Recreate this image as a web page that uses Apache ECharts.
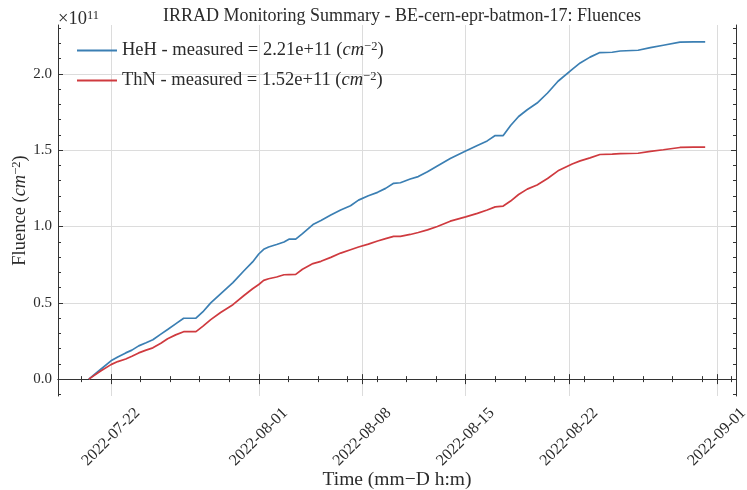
<!DOCTYPE html>
<html>
<head>
<meta charset="utf-8">
<script src="https://cdn.jsdelivr.net/npm/echarts@6/dist/echarts.min.js"></script>
<style>
  html, body { margin: 0; padding: 0; background: #fff; }
  #chart { width: 747px; height: 490px; }
</style>
</head>
<body>
<div id="chart"></div>
<script>
// Measurement timestamps (UTC) and cumulative fluences, in units of 1e11 cm^-2
const times = [
  '2022-07-20 12:00', '2022-07-21 06:00', '2022-07-22 00:00', '2022-07-22 11:00', '2022-07-23 00:00',
  '2022-07-23 10:00', '2022-07-23 21:00', '2022-07-24 09:00', '2022-07-24 20:00', '2022-07-25 09:00',
  '2022-07-25 20:00', '2022-07-26 09:00', '2022-07-26 22:00', '2022-07-27 18:00', '2022-07-28 05:00',
  '2022-07-28 18:00', '2022-07-29 10:00', '2022-07-30 06:00', '2022-07-31 00:00', '2022-07-31 14:00',
  '2022-08-01 00:00', '2022-08-01 08:00', '2022-08-01 16:00', '2022-08-02 05:00', '2022-08-02 17:00',
  '2022-08-03 01:00', '2022-08-03 12:00', '2022-08-03 23:00', '2022-08-04 16:00', '2022-08-05 05:00',
  '2022-08-05 21:00', '2022-08-06 13:00', '2022-08-07 05:00', '2022-08-07 18:00', '2022-08-08 10:00',
  '2022-08-09 01:00', '2022-08-09 14:00', '2022-08-10 03:00', '2022-08-10 14:00', '2022-08-11 06:00',
  '2022-08-11 19:00', '2022-08-12 10:00', '2022-08-13 02:00', '2022-08-13 23:00', '2022-08-15 00:00',
  '2022-08-15 19:00', '2022-08-16 11:00', '2022-08-17 00:00', '2022-08-17 13:00', '2022-08-18 01:00',
  '2022-08-18 14:00', '2022-08-19 04:00', '2022-08-19 20:00', '2022-08-20 13:00', '2022-08-21 06:00',
  '2022-08-22 05:00', '2022-08-22 18:00', '2022-08-23 10:00', '2022-08-24 02:00', '2022-08-24 22:00',
  '2022-08-25 11:00', '2022-08-26 16:00', '2022-08-27 12:00', '2022-08-28 09:00', '2022-08-29 12:00',
  '2022-08-30 10:00', '2022-08-31 05:00'
];
const heh = [
  0.000, 0.060, 0.120, 0.145, 0.172, 0.190, 0.218, 0.238, 0.258, 0.295,
  0.325, 0.362, 0.399, 0.399, 0.440, 0.500, 0.559, 0.632, 0.710, 0.768,
  0.820, 0.851, 0.866, 0.882, 0.899, 0.917, 0.917, 0.954, 1.013, 1.040,
  1.075, 1.108, 1.136, 1.173, 1.202, 1.224, 1.250, 1.283, 1.287, 1.311,
  1.327, 1.359, 1.397, 1.445, 1.495, 1.531, 1.561, 1.596, 1.596, 1.662,
  1.721, 1.765, 1.809, 1.875, 1.952, 2.030, 2.072, 2.110, 2.140, 2.142,
  2.150, 2.155, 2.172, 2.188, 2.208, 2.210, 2.210
];
const thn = [
  0.000, 0.050, 0.095, 0.115, 0.132, 0.150, 0.172, 0.190, 0.205, 0.235,
  0.265, 0.290, 0.311, 0.311, 0.346, 0.390, 0.437, 0.488, 0.548, 0.592,
  0.620, 0.647, 0.658, 0.669, 0.684, 0.685, 0.686, 0.720, 0.757, 0.772,
  0.798, 0.826, 0.848, 0.866, 0.885, 0.905, 0.921, 0.935, 0.936, 0.948,
  0.961, 0.978, 1.000, 1.035, 1.063, 1.086, 1.108, 1.129, 1.134, 1.167,
  1.210, 1.245, 1.272, 1.315, 1.365, 1.410, 1.430, 1.450, 1.472, 1.475,
  1.478, 1.480, 1.492, 1.503, 1.518, 1.520, 1.520
];
const UNIT = 1e11;
const seriesNames = ['HeH', 'ThN'];
const xMajorDates = ['2022-07-22', '2022-08-01', '2022-08-08', '2022-08-15', '2022-08-22', '2022-09-01'];
const yMajorTicks = [0.0, 0.5, 1.0, 1.5, 2.0];

const FONT = "'Liberation Serif', 'DejaVu Serif', serif";
const TEXT = '#2b2b2b';
const FRAME = '#333333';
const GRID = '#dcdcdc';
const DAY = 86400000;
const LABEL_SIZE = 18.5;

const toMs = s => Date.parse(s.replace(' ', 'T') + (s.length > 10 ? ':00Z' : 'T00:00:00Z'));
const tMs = times.map(toMs);

// axis ranges with 5% padding around the data
const xPad = (tMs[tMs.length - 1] - tMs[0]) * 0.05;
const xMin = tMs[0] - xPad, xMax = tMs[tMs.length - 1] + xPad;
const yDataMax = Math.max(...heh, ...thn);
const yPad = yDataMax * 0.05;
const yMin = -yPad, yMax = yDataMax + yPad;

const xMajor = xMajorDates.map(toMs);
// minor ticks every two days, anchored on the first major tick
const xMinor = [];
for (let t = xMajor[0] - 2 * DAY * Math.floor((xMajor[0] - xMin) / (2 * DAY)); t <= xMax; t += 2 * DAY) {
  if (t >= xMin && !xMajor.includes(t)) xMinor.push(t);
}
const yMinor = [];
for (let k = Math.ceil(yMin * 10); k <= Math.floor(yMax * 10); k++) {
  const v = k / 10;
  if (!yMajorTicks.some(m => Math.abs(m - v) < 1e-9)) yMinor.push(v);
}

const pad2 = n => String(n).padStart(2, '0');
const fmtDate = v => { const d = new Date(v); return d.getUTCFullYear() + '-' + pad2(d.getUTCMonth() + 1) + '-' + pad2(d.getUTCDate()); };

const seriesData = [heh, thn].map(arr => arr.map((v, i) => [tMs[i], v]));
const finals = { HeH: heh[heh.length - 1], ThN: thn[thn.length - 1] };
const sci = v => (v * UNIT).toExponential(2);

const baseX = {
  type: 'value', min: xMin, max: xMax, scale: true,
  axisLine: { show: false }, splitLine: { show: false }, axisLabel: { show: false },
  axisTick: { show: true, inside: true, length: 5, lineStyle: { color: FRAME, width: 1 } }
};
const baseY = {
  type: 'value', min: yMin, max: yMax,
  axisLine: { show: false }, splitLine: { show: false }, axisLabel: { show: false },
  axisTick: { show: true, inside: true, length: 5, lineStyle: { color: FRAME, width: 1 } }
};
const richMath = {
  t: { fontFamily: FONT, fontSize: LABEL_SIZE, color: TEXT },
  it: { fontFamily: FONT, fontStyle: 'italic', fontSize: LABEL_SIZE, color: TEXT },
  sup: { fontFamily: FONT, fontSize: 12.5, color: TEXT, verticalAlign: 'top', padding: [0, 0, 8, 0] }
};

const chart = echarts.init(document.getElementById('chart'), null, { renderer: 'canvas' });
chart.setOption({
  animation: false,
  backgroundColor: '#ffffff',
  title: {
    text: 'IRRAD Monitoring Summary - BE-cern-epr-batmon-17: Fluences',
    left: 397, textAlign: 'center', top: 2,
    textStyle: { fontFamily: FONT, fontSize: 18, fontWeight: 'normal', color: TEXT }
  },
  grid: { left: 58, right: 11, top: 25, bottom: 94, containLabel: false, outerBoundsMode: 'none' },
  legend: {
    data: seriesNames,
    orient: 'vertical', left: 72, top: 35, itemGap: 10,
    icon: 'rect', itemWidth: 40, itemHeight: 2,
    textStyle: { fontFamily: FONT, fontSize: LABEL_SIZE, color: TEXT, rich: richMath },
    formatter: name => '{t|' + name + ' - measured = ' + sci(finals[name]) + ' (}{it|cm}{sup|\u22122}{t|)}'
  },
  xAxis: [
    Object.assign({}, baseX, {
      position: 'bottom',
      axisLine: { show: true, lineStyle: { color: FRAME, width: 1 } },
      axisTick: { show: true, inside: true, length: 5, customValues: xMajor, lineStyle: { color: FRAME, width: 1 } },
      splitLine: { show: true, lineStyle: { color: GRID, width: 1 } },
      axisLabel: {
        show: true, customValues: xMajor, rotate: 45, margin: 41,
        align: 'center', verticalAlign: 'middle',
        fontFamily: FONT, fontSize: 16, color: TEXT, formatter: v => fmtDate(v)
      },
      name: 'Time (mm\u2212D h:m)', nameLocation: 'middle', nameGap: 74, nameMoveOverlap: false,
      nameTextStyle: { fontFamily: FONT, fontSize: 19.5, color: TEXT }
    }),
    Object.assign({}, baseX, {
      position: 'bottom',
      axisTick: { show: true, inside: true, length: 3, customValues: xMinor, lineStyle: { color: FRAME, width: 1 } }
    }),
    Object.assign({}, baseX, {
      position: 'top',
      axisLine: { show: true, lineStyle: { color: FRAME, width: 1 } },
      axisTick: { show: true, inside: true, length: 5, customValues: xMajor, lineStyle: { color: FRAME, width: 1 } }
    }),
    Object.assign({}, baseX, {
      position: 'top',
      axisTick: { show: true, inside: true, length: 3, customValues: xMinor, lineStyle: { color: FRAME, width: 1 } }
    })
  ],
  yAxis: [
    Object.assign({}, baseY, {
      position: 'left',
      axisLine: { show: true, lineStyle: { color: FRAME, width: 1 } },
      axisTick: { show: true, inside: true, length: 5, customValues: yMajorTicks, lineStyle: { color: FRAME, width: 1 } },
      splitLine: { show: true, lineStyle: { color: GRID, width: 1 } },
      axisLabel: {
        show: true, customValues: yMajorTicks, margin: 6,
        fontFamily: FONT, fontSize: 15, color: TEXT, formatter: v => v.toFixed(1)
      },
      name: '{t|Fluence (}{it|cm}{sup|\u22122}{t|)}', nameLocation: 'middle', nameGap: 27, nameRotate: 90,
      nameMoveOverlap: false,
      nameTextStyle: { fontFamily: FONT, fontSize: LABEL_SIZE, color: TEXT, rich: richMath }
    }),
    Object.assign({}, baseY, {
      position: 'left',
      axisTick: { show: true, inside: true, length: 3, customValues: yMinor, lineStyle: { color: FRAME, width: 1 } },
      name: '{t|\u00d710}{sup|11}', nameLocation: 'end', nameGap: -5, nameMoveOverlap: false,
      nameTextStyle: { align: 'left', fontFamily: FONT, fontSize: LABEL_SIZE, color: TEXT, rich: richMath }
    }),
    Object.assign({}, baseY, {
      position: 'right',
      axisLine: { show: true, lineStyle: { color: FRAME, width: 1 } },
      axisTick: { show: true, inside: true, length: 5, customValues: yMajorTicks, lineStyle: { color: FRAME, width: 1 } }
    }),
    Object.assign({}, baseY, {
      position: 'right',
      axisTick: { show: true, inside: true, length: 3, customValues: yMinor, lineStyle: { color: FRAME, width: 1 } }
    })
  ],
  series: seriesNames.map((name, i) => ({
    name, type: 'line', xAxisIndex: 0, yAxisIndex: 0,
    data: seriesData[i], showSymbol: false, symbol: 'none',
    lineStyle: { width: 1.7, color: i === 0 ? '#3b7fb3' : '#cf3a3f' },
    itemStyle: { color: i === 0 ? '#3b7fb3' : '#cf3a3f' },
    emphasis: { disabled: true }
  }))
});
</script>
</body>
</html>
